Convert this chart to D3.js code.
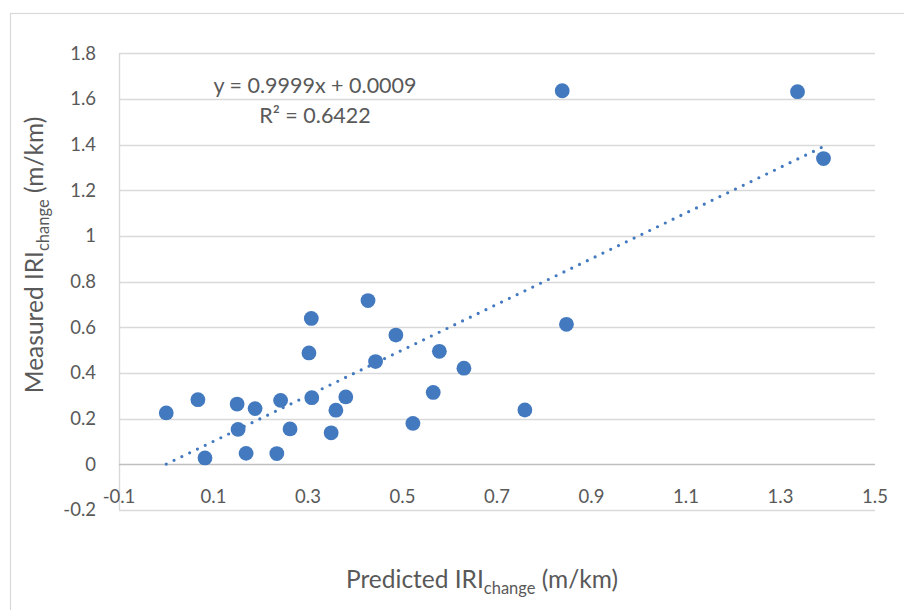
<!DOCTYPE html>
<html>
<head>
<meta charset="utf-8">
<script src="https://cdn.jsdelivr.net/npm/d3@7"></script>
<style>
  html, body { margin: 0; padding: 0; background: #fff; }
  svg { display: block; font-family: Lato, "Open Sans", sans-serif; }
</style>
</head>
<body>
<svg id="chart" width="904" height="610"></svg>
<script>
// ---- data ----
const predicted = [0.0, 0.067, 0.082, 0.150, 0.152, 0.188, 0.169, 0.242, 0.234, 0.262,
                   0.302, 0.307, 0.308, 0.349, 0.359, 0.380, 0.427, 0.443, 0.486, 0.522,
                   0.565, 0.578, 0.630, 0.759, 0.838, 0.847, 1.336, 1.391];
const measured  = [0.225, 0.283, 0.028, 0.264, 0.153, 0.244, 0.048, 0.280, 0.047, 0.155,
                   0.488, 0.639, 0.292, 0.138, 0.237, 0.295, 0.717, 0.450, 0.566, 0.179,
                   0.315, 0.495, 0.421, 0.238, 1.636, 0.613, 1.632, 1.339];
const trendCoef = [0.9999, 0.0009];   // slope, intercept
const xTicks = [-0.1, 0.1, 0.3, 0.5, 0.7, 0.9, 1.1, 1.3, 1.5];
const yTicks = [-0.2, 0, 0.2, 0.4, 0.6, 0.8, 1, 1.2, 1.4, 1.6, 1.8];
const xTickLabels = ["-0.1", "0.1", "0.3", "0.5", "0.7", "0.9", "1.1", "1.3", "1.5"];
const yTickLabels = ["-0.2", "0", "0.2", "0.4", "0.6", "0.8", "1", "1.2", "1.4", "1.6", "1.8"];
const equationLabel = "y = 0.9999x + 0.0009";
const r2Label = "R² = 0.6422";

const svg = d3.select("#chart");
const blue = "#4279bf";
const textCol = "#595959";

// chart area border
svg.append("rect").attr("x", 10.5).attr("y", 13.5).attr("width", 1000).attr("height", 1000)
  .attr("fill", "none").attr("stroke", "#d9d9d9").attr("stroke-width", 1.2);

const x = d3.scaleLinear().domain([-0.1, 1.5]).range([119, 875]);
const y = d3.scaleLinear().domain([-0.2, 1.8]).range([510, 53.3]);

// horizontal gridlines
svg.append("g").selectAll("line").data(yTicks.filter(v => v !== 0)).join("line")
  .attr("x1", x(-0.1)).attr("x2", x(1.5))
  .attr("y1", d => Math.round(y(d)) + 0.5).attr("y2", d => Math.round(y(d)) + 0.5)
  .attr("stroke", "#d9d9d9").attr("stroke-width", 1.4);

// vertical axis line
svg.append("line").attr("x1", x(-0.1) + 0.5).attr("x2", x(-0.1) + 0.5)
  .attr("y1", y(1.8)).attr("y2", y(-0.2))
  .attr("stroke", "#d9d9d9").attr("stroke-width", 1.4);

// horizontal axis line at y = 0
svg.append("line").attr("x1", x(-0.1)).attr("x2", x(1.5))
  .attr("y1", Math.round(y(0)) + 0.5).attr("y2", Math.round(y(0)) + 0.5)
  .attr("stroke", "#bfbfbf").attr("stroke-width", 1.4);

// y tick labels
svg.append("g").selectAll("text").data(yTicks).join("text")
  .attr("x", 96).attr("y", d => y(d))
  .attr("dy", "0.35em").attr("text-anchor", "end")
  .attr("font-size", 18.5).attr("fill", textCol)
  .text((d, i) => yTickLabels[i]);

// x tick labels
svg.append("g").selectAll("text").data(xTicks).join("text")
  .attr("x", d => x(d)).attr("y", 503)
  .attr("text-anchor", "middle")
  .attr("font-size", 18.5).attr("fill", textCol)
  .text((d, i) => xTickLabels[i]);

// points
svg.append("g").selectAll("circle").data(predicted.map((p, i) => [p, measured[i]])).join("circle")
  .attr("cx", d => x(d[0])).attr("cy", d => y(d[1])).attr("r", 7.4)
  .attr("fill", blue);

// trendline (dotted)
const xMin = d3.min(predicted), xMax = d3.max(predicted);
const tl = [xMin, xMax].map(v => [v, trendCoef[0] * v + trendCoef[1]]);
svg.append("path")
  .attr("d", d3.line().x(d => x(d[0])).y(d => y(d[1]))(tl))
  .attr("fill", "none").attr("stroke", blue).attr("stroke-width", 3.2)
  .attr("stroke-linecap", "round").attr("stroke-dasharray", "0 8.66");

// equation label
svg.append("text").attr("x", 315).attr("y", 93).attr("text-anchor", "middle")
  .attr("font-size", 21.5).attr("fill", textCol).text(equationLabel);
svg.append("text").attr("x", 315).attr("y", 123).attr("text-anchor", "middle")
  .attr("font-size", 21.5).attr("fill", textCol).text(r2Label);

// x axis title
const xt = svg.append("text").attr("x", 482).attr("y", 588).attr("text-anchor", "middle")
  .attr("font-size", 24.5).attr("fill", textCol);
xt.append("tspan").text("Predicted IRI");
xt.append("tspan").attr("font-size", 16.5).attr("dy", 6).text("change");
xt.append("tspan").attr("dy", -6).text(" (m/km)");

// y axis title
const yt = svg.append("text").attr("transform", "translate(43,255) rotate(-90)")
  .attr("text-anchor", "middle").attr("font-size", 24.5).attr("fill", textCol);
yt.append("tspan").text("Measured IRI");
yt.append("tspan").attr("font-size", 16.5).attr("dy", 6).text("change");
yt.append("tspan").attr("dy", -6).text(" (m/km)");
</script>
</body>
</html>
